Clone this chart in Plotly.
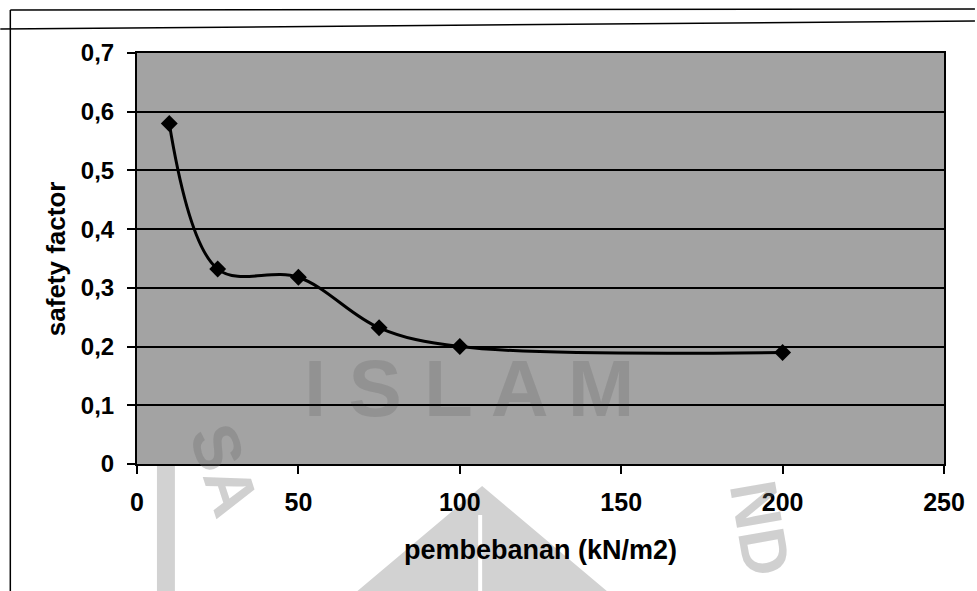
import plotly.graph_objects as go

# data
pembebanan = [10, 25, 50, 75, 100, 200]
safety_factor = [0.58, 0.332, 0.318, 0.232, 0.2, 0.19]
x_ticks = [0, 50, 100, 150, 200, 250]
y_ticks = [0, 0.1, 0.2, 0.3, 0.4, 0.5, 0.6, 0.7]

W, H = 977, 591
L, R, T, B = 137, 31, 53, 127
PW, PH = W - L - R, H - T - B


def px(x):
    return (x - L) / PW


def py(y):
    return (H - B - y) / PH


FONT = "Liberation Sans, Arial, sans-serif"

fig = go.Figure()
fig.add_trace(go.Scatter(
    x=pembebanan, y=safety_factor, mode="lines+markers",
    line=dict(color="black", width=3, shape="spline", smoothing=1.0),
    marker=dict(symbol="diamond", size=13, color="black"),
    showlegend=False, hoverinfo="x+y",
))

shapes = []
# scan frame lines
shapes.append(dict(type="line", xref="paper", yref="paper", x0=px(10), y0=py(10), x1=px(977), y1=py(9),
                   line=dict(color="black", width=1.5)))
shapes.append(dict(type="line", xref="paper", yref="paper", x0=px(0), y0=py(29), x1=px(977), y1=py(21),
                   line=dict(color="black", width=1.5)))
shapes.append(dict(type="line", xref="paper", yref="paper", x0=px(10), y0=py(10), x1=px(10), y1=py(591),
                   line=dict(color="black", width=1.5)))
# watermark triangle below plot
shapes.append(dict(type="path", xref="paper", yref="paper", layer="below",
                   path=f"M {px(483)} {py(486)} L {px(358)} {py(591)} L {px(608)} {py(591)} Z",
                   fillcolor="#d2d2d2", line=dict(width=0)))
shapes.append(dict(type="line", xref="paper", yref="paper", layer="below",
                   x0=px(481), y0=py(515), x1=px(481), y1=py(591),
                   line=dict(color="white", width=4)))
# watermark vertical bar bottom-left
shapes.append(dict(type="rect", xref="paper", yref="paper", layer="below",
                   x0=px(157), y0=py(466), x1=px(175), y1=py(591),
                   fillcolor="#d2d2d2", line=dict(width=0)))

WM = "rgba(110,110,110,0.32)"
annotations = [
    dict(text="<b>safety factor</b>", x=px(56), y=py(259), xref="paper", yref="paper",
         xanchor="center", yanchor="middle",
         textangle=-90, showarrow=False, font=dict(family=FONT, size=26, color="black")),
    dict(text="<b>pembebanan (kN/m2)</b>", x=px(541), y=py(550), xref="paper", yref="paper",
         xanchor="center", yanchor="middle",
         showarrow=False, font=dict(family=FONT, size=27, color="black")),
    # faint watermark letters
    dict(text="<b>I S L A M</b>", x=px(470), y=py(388), xref="paper", yref="paper",
         xanchor="center", yanchor="middle",
         showarrow=False, font=dict(family=FONT, size=80, color="rgba(40,40,40,0.13)")),
    dict(text="<b>SA</b>", x=px(225), y=py(470), xref="paper", yref="paper", textangle=72,
         xanchor="center", yanchor="middle",
         showarrow=False, font=dict(family=FONT, size=66, color=WM)),
    dict(text="<b>ND</b>", x=px(762), y=py(528), xref="paper", yref="paper", textangle=80,
         xanchor="center", yanchor="middle",
         showarrow=False, font=dict(family=FONT, size=66, color=WM)),
]

fig.update_layout(
    width=W, height=H,
    margin=dict(l=L, r=R, t=T, b=B, pad=0),
    paper_bgcolor="white",
    plot_bgcolor="#a3a3a3",
    separators=",.",
    font=dict(family=FONT, size=24, color="black"),
    shapes=shapes,
    annotations=annotations,
    xaxis=dict(
        range=[0, 250], tickvals=x_ticks, ticks="outside", ticklen=8, tickwidth=1.5,
        tickcolor="black", showline=True, linecolor="black", linewidth=2, mirror=True,
        showgrid=False, zeroline=False, ticklabelstandoff=7,
        tickfont=dict(family=FONT, size=25, color="black", weight="bold"),
    ),
    yaxis=dict(
        range=[0, 0.7], tickvals=y_ticks, ticks="outside", ticklen=8, tickwidth=1.5,
        tickcolor="black", showline=True, linecolor="black", linewidth=2, mirror=True,
        showgrid=True, gridcolor="black", gridwidth=1.5, zeroline=False,
        ticklabelstandoff=8,
        tickfont=dict(family=FONT, size=24, color="black", weight="bold"),
    ),
)

fig.write_html("out.html")
